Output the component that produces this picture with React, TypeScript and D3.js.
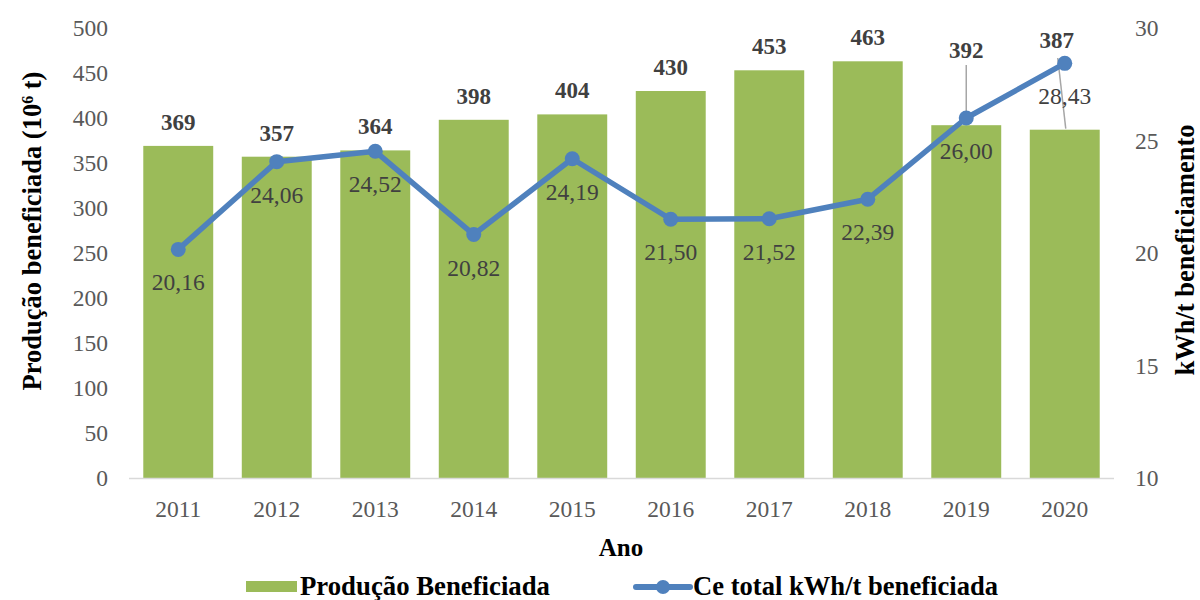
import React from "react";
import * as d3 from "d3";

const years = ["2011", "2012", "2013", "2014", "2015", "2016", "2017", "2018", "2019", "2020"];
const production = [369, 357, 364, 398, 404, 430, 453, 463, 392, 387];
const energy = [20.16, 24.06, 24.52, 20.82, 24.19, 21.5, 21.52, 22.39, 26.0, 28.43];
const leftTicks = [0, 50, 100, 150, 200, 250, 300, 350, 400, 450, 500];
const rightTicks = [10, 15, 20, 25, 30];

const W = 1200, H = 600;
const L = 129, R = 1114, T = 28, B = 478;
const FONT = "'Liberation Serif', 'Times New Roman', serif";

const fmt = (v: number) => v.toFixed(2).replace(".", ",");

export default function App() {
  const x = d3.scaleBand().domain(years).range([L, R]).paddingInner(0.29).paddingOuter(0.145);
  const yL = d3.scaleLinear().domain([0, 500]).range([B, T]);
  const yR = d3.scaleLinear().domain([10, 30]).range([B, T]);
  const cx = (y: string) => (x(y) as number) + x.bandwidth() / 2;
  const line = d3
    .line<number>()
    .x((_, i) => cx(years[i]))
    .y((d) => yR(d));

  // bar labels of the last two years are moved up, with leader lines
  const barLabelY = (i: number) => {
    if (i === 8) return yL(production[i]) - 67;
    if (i === 9) return yL(production[i]) - 82;
    return yL(production[i]) - 16;
  };
  const barLabelDx = (i: number) => (i === 9 ? -8 : 0);

  return (
    <svg width={W} height={H} style={{ position: "absolute", left: 0, top: 0, background: "#fff" }} fontFamily={FONT}>
      {/* bars */}
      {production.map((v, i) => (
        <rect key={years[i]} x={x(years[i])} y={yL(v)} width={x.bandwidth()} height={B - yL(v)} fill="#9BBB59" />
      ))}
      {/* x axis line */}
      <line x1={L} x2={R} y1={B + 0.5} y2={B + 0.5} stroke="#D9D9D9" strokeWidth={1.5} />
      {/* left ticks */}
      {leftTicks.map((t) => (
        <text key={t} x={108} y={yL(t) + 8} textAnchor="end" fontSize={23.5} fill="#595959">
          {t}
        </text>
      ))}
      {/* right ticks */}
      {rightTicks.map((t) => (
        <text key={t} x={1135} y={yR(t) + 8} textAnchor="start" fontSize={23.5} fill="#595959">
          {t}
        </text>
      ))}
      {/* x labels */}
      {years.map((y) => (
        <text key={y} x={cx(y)} y={517} textAnchor="middle" fontSize={23.5} fill="#595959">
          {y}
        </text>
      ))}
      {/* axis titles */}
      <text x={621} y={556} textAnchor="middle" fontSize={25} fontWeight="bold" fill="#000">
        Ano
      </text>
      <text transform="translate(41,231) rotate(-90)" textAnchor="middle" fontSize={26.5} fontWeight="bold" fill="#000">
        Produção beneficiada  (10<tspan baselineShift="super" fontSize={16}>6</tspan> t)
      </text>
      <text transform="translate(1194,250) rotate(-90)" textAnchor="middle" fontSize={26.5} fontWeight="bold" fill="#000">
        kWh/t beneficiamento
      </text>
      {/* leader lines */}
      <line x1={cx("2019")} x2={cx("2019")} y1={65} y2={yL(production[8]) - 1} stroke="#A6A6A6" strokeWidth={1.5} />
      <line x1={cx("2020") - 7} x2={cx("2020") + 1} y1={58} y2={yL(production[9]) - 1} stroke="#A6A6A6" strokeWidth={1.5} />
      {/* bar labels */}
      {production.map((v, i) => (
        <text key={years[i]} x={cx(years[i]) + barLabelDx(i)} y={barLabelY(i)} textAnchor="middle" fontSize={23} fontWeight="bold" fill="#404040">
          {v}
        </text>
      ))}
      {/* line */}
      <path d={line(energy) || ""} fill="none" stroke="#4F81BD" strokeWidth={5.5} strokeLinejoin="round" />
      {energy.map((v, i) => (
        <circle key={years[i]} cx={cx(years[i])} cy={yR(v)} r={7.5} fill="#4F81BD" />
      ))}
      {/* line labels */}
      {energy.map((v, i) => (
        <text key={years[i]} x={cx(years[i])} y={yR(v) + 41} textAnchor="middle" fontSize={23.5} fill="#404040">
          {fmt(v)}
        </text>
      ))}
      {/* legend */}
      <rect x={246} y={581} width={51} height={11} fill="#9BBB59" />
      <text x={300} y={595} fontSize={26.5} fontWeight="bold" fill="#000" textLength={250} lengthAdjust="spacingAndGlyphs">
        Produção Beneficiada
      </text>
      <line x1={636} x2={690} y1={587} y2={587} stroke="#4F81BD" strokeWidth={6} strokeLinecap="round" />
      <circle cx={663} cy={587} r={7} fill="#4F81BD" />
      <text x={693} y={595} fontSize={26.5} fontWeight="bold" fill="#000" textLength={305} lengthAdjust="spacingAndGlyphs">
        Ce total kWh/t beneficiada
      </text>
    </svg>
  );
}
